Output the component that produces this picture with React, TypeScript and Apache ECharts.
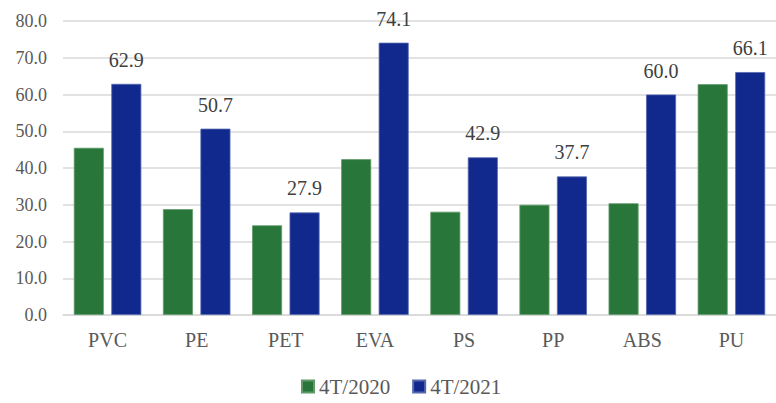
import React, { useEffect, useRef } from "react";
import * as echarts from "echarts";

const categories = ["PVC", "PE", "PET", "EVA", "PS", "PP", "ABS", "PU"];
const series2020 = [45.5, 28.8, 24.4, 42.4, 28.1, 30.0, 30.4, 62.8];
const series2021 = [62.9, 50.7, 27.9, 74.1, 42.9, 37.7, 60.0, 66.1];
const seriesNames = ["4T/2020", "4T/2021"];

const FONT = "Liberation Serif";

export default function App() {
  const ref = useRef<HTMLDivElement>(null);
  useEffect(() => {
    if (!ref.current) return;
    const chart = echarts.init(ref.current, undefined, { renderer: "svg" });
    chart.setOption({
      animation: false,
      backgroundColor: "#ffffff",
      textStyle: { fontFamily: FONT },
      grid: { left: 63, width: 721, top: 21, bottom: 88, containLabel: false },
      legend: {
        left: 301,
        top: 376,
        padding: 0,
        itemWidth: 12,
        itemHeight: 12,
        itemGap: 22,
        icon: "rect",
        textStyle: { fontFamily: FONT, fontSize: 21, color: "#595959" },
        data: seriesNames,
      },
      xAxis: {
        type: "category",
        data: categories,
        axisLine: { lineStyle: { color: "#d9d9d9", width: 1.5 } },
        axisTick: { show: false },
        axisLabel: { fontFamily: FONT, fontSize: 20, color: "#595959", margin: 15 },
      },
      yAxis: {
        type: "value",
        min: 0,
        max: 80,
        interval: 10,
        axisLine: { show: false },
        axisTick: { show: false },
        splitLine: { lineStyle: { color: "#d9d9d9", width: 1.5 } },
        axisLabel: {
          fontFamily: FONT,
          fontSize: 18,
          color: "#595959",
          margin: 16,
          formatter: (v: number) => v.toFixed(1),
        },
      },
      series: [
        {
          name: seriesNames[0],
          type: "bar",
          data: series2020,
          barWidth: 30,
          barGap: "25%",
          itemStyle: { color: "#28763a", borderColor: "#5f9a68", borderWidth: 0.8 },
        },
        {
          name: seriesNames[1],
          type: "bar",
          data: series2021,
          barWidth: 30,
          itemStyle: { color: "#11288c", borderColor: "#5568b0", borderWidth: 0.8 },
          label: {
            show: true,
            position: "top",
            distance: 14,
            fontFamily: FONT,
            fontSize: 20,
            color: "#404040",
            formatter: (p: any) => Number(p.value).toFixed(1),
          },
        },
      ],
    });
    return () => chart.dispose();
  }, []);
  return (
    <div
      ref={ref}
      style={{ position: "fixed", left: 0, top: 0, width: 776, height: 403, overflow: "hidden" }}
    />
  );
}
